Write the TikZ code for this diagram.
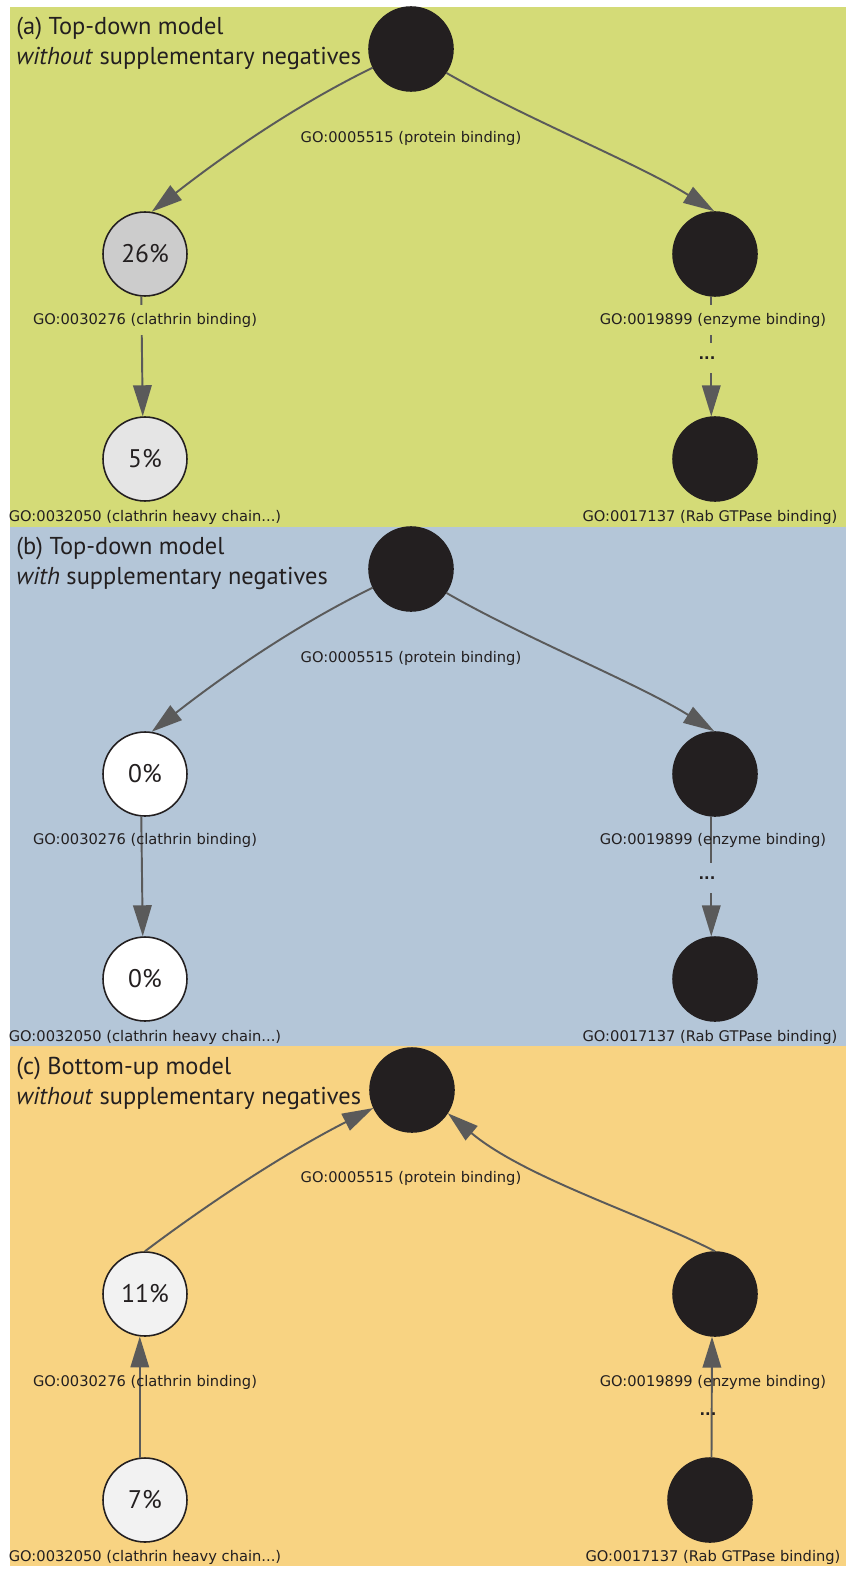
\documentclass[tikz,border=0pt]{standalone}
\usepackage{fontspec}
\setmainfont{PT Sans}
\newfontfamily\labelfont{DejaVu Sans}
\usepackage{tikz}
\usetikzlibrary{arrows.meta}

\definecolor{ink}{HTML}{231F20}
\definecolor{linkgray}{HTML}{5A5A5A}
\definecolor{greenbg}{HTML}{D4DB77}
\definecolor{bluebg}{HTML}{B4C6D8}
\definecolor{orangebg}{HTML}{F8D382}

\tikzset{
  term/.style={circle,draw=ink,line width=0.9pt,minimum size=1.68cm,inner sep=0pt,
    text=ink,font=\fontsize{14.5}{16}\selectfont},
  dark/.style={term,fill=ink},
  link/.style={draw=linkgray,line width=1.1pt,-{Triangle[length=0.62cm,width=0.37cm]}},
  golab/.style={font=\labelfont\fontsize{8.35}{9}\selectfont,text=ink,inner sep=0pt,minimum height=0.6cm},
  dots/.style={golab,font=\labelfont\bfseries\fontsize{8.35}{9}\selectfont},
  heading/.style={anchor=north west,align=left,inner sep=0pt,text=ink,font=\fontsize{13.9}{17.2}\selectfont}
}

\begin{document}
\begin{tikzpicture}[x=0.02cm,y=-0.02cm]
\useasboundingbox (0,0) rectangle (850,1571);
\fill[greenbg] (10,7) rectangle (846,527);
\fill[bluebg] (10,527) rectangle (846,1046);
\fill[orangebg] (10,1046) rectangle (846,1566);

% (a) top-down, no extra negatives
\node[heading] (ha) at (16,17) {(a) Top-down model\\\textit{without} supplementary negatives};
\node[dark] (a0) at (411,49) {};
\node[term,fill=black!20] (a1) at (145,254) {26\%};
\node[dark] (a2) at (715,254) {};
\node[term,fill=black!10] (a3) at (145,459) {5\%};
\node[dark] (a4) at (715,459) {};
\draw[link] (a0.206) .. controls +(206:1.6cm) and +(38:2cm) .. (a1.81);
\draw[link] (a0.326) .. controls +(330:1.8cm) and +(148:1.8cm) .. (a2.91);
\draw[link] (a1.265) -- (a3.93);
\draw[link] (a2.265) -- (a4.95);
\node[golab] (la0) at (411,138) {GO:0005515 (protein binding)};
\node[golab,fill=greenbg] (la1) at (145,320) {GO:0030276 (clathrin binding)};
\node[golab,fill=greenbg] (la2) at (713,320) {GO:0019899 (enzyme binding)};
\node[dots,fill=greenbg] (da) at (707,358) {...};
\node[golab] (la3) at (145,517) {GO:0032050 (clathrin heavy chain...)};
\node[golab] (la4) at (710,517) {GO:0017137 (Rab GTPase binding)};

% (b) top-down, with extra negatives
\begin{scope}[shift={(0,520)}]
\node[heading] (hb) at (16,17) {(b) Top-down model\\\textit{with} supplementary negatives};
\node[dark] (b0) at (411,49) {};
\node[term,fill=white] (b1) at (145,254) {0\%};
\node[dark] (b2) at (715,254) {};
\node[term,fill=white] (b3) at (145,459) {0\%};
\node[dark] (b4) at (715,459) {};
\draw[link] (b0.206) .. controls +(206:1.6cm) and +(38:2cm) .. (b1.81);
\draw[link] (b0.326) .. controls +(330:1.8cm) and +(148:1.8cm) .. (b2.91);
\draw[link] (b1.265) -- (b3.93);
\draw[link] (b2.265) -- (b4.95);
\node[golab] (lb0) at (411,138) {GO:0005515 (protein binding)};
\node[golab] (lb1) at (145,320) {GO:0030276 (clathrin binding)};
\node[golab] (lb2) at (713,320) {GO:0019899 (enzyme binding)};
\node[dots,fill=bluebg] (db) at (707,358) {...};
\node[golab] (lb3) at (145,517) {GO:0032050 (clathrin heavy chain...)};
\node[golab] (lb4) at (710,517) {GO:0017137 (Rab GTPase binding)};
\end{scope}

% (c) bottom-up, no extra negatives
\begin{scope}[shift={(0,1040)}]
\node[heading] (hc) at (16,17) {(c) Bottom-up model\\\textit{without} supplementary negatives};
\node[dark] (c0) at (412,50) {};
\node[term,fill=black!5] (c1) at (145,254) {11\%};
\node[dark] (c2) at (715,254) {};
\node[term,fill=black!5] (c3) at (145,460) {7\%};
\node[dark] (c4) at (710,460) {};
\draw[link] (c1.90) .. controls +(37:1.6cm) and +(207:2cm) .. (c0.205);
\draw[link] (c2.90) .. controls +(153:1.6cm) and +(320:2cm) .. (c0.327);
\draw[link] (c3.97) -- (c1.263);
\draw[link] (c4.88) -- (c2.266);
\node[golab] (lc0) at (411,138) {GO:0005515 (protein binding)};
\node[golab] (lc1) at (145,342) {GO:0030276 (clathrin binding)};
\node[golab] (lc2) at (713,342) {GO:0019899 (enzyme binding)};
\node[dots] (dc) at (708,374) {...};
\node[golab] (lc3) at (145,517) {GO:0032050 (clathrin heavy chain...)};
\node[golab] (lc4) at (713,517) {GO:0017137 (Rab GTPase binding)};
\end{scope}
\end{tikzpicture}
\end{document}
